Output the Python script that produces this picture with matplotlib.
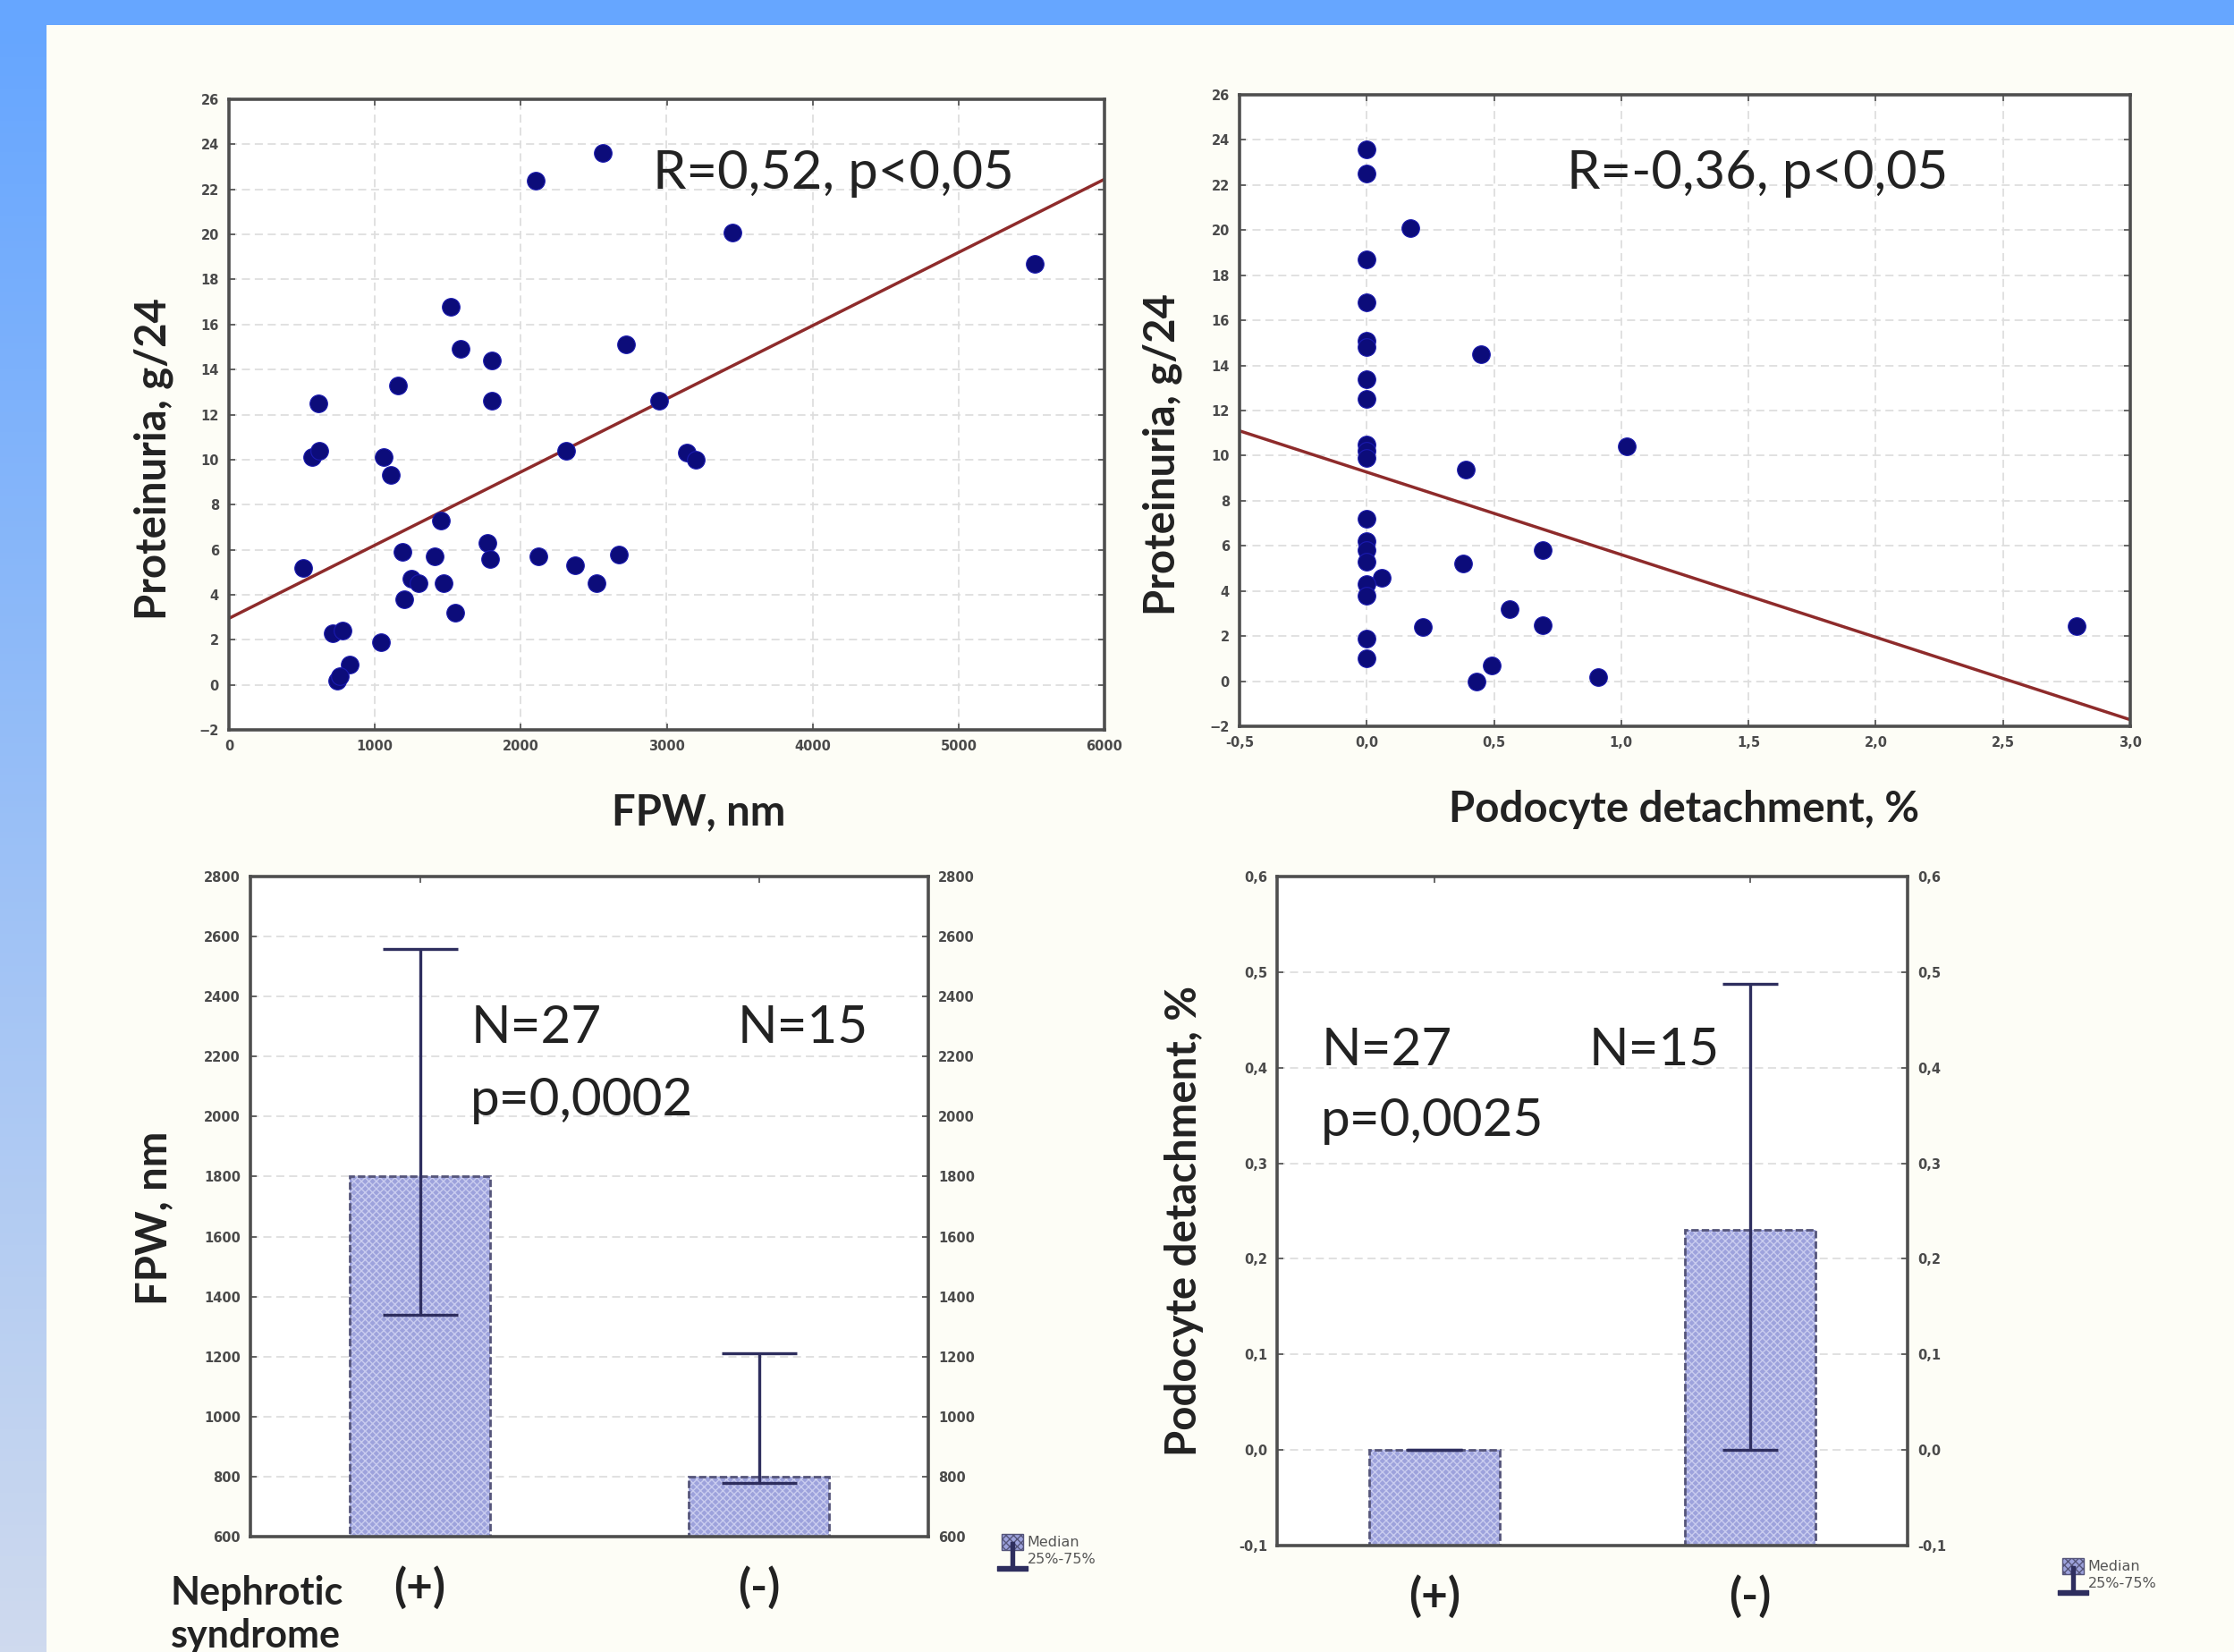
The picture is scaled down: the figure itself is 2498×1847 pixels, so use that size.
import numpy as np
import matplotlib
matplotlib.use("Agg")
import matplotlib.pyplot as plt
from matplotlib.patches import Rectangle, Patch
from matplotlib.lines import Line2D
from matplotlib.ticker import FuncFormatter, MultipleLocator

# ---------------- data ----------------
fpw_nm = [2100, 2560, 3450, 5520, 1520, 1590, 1800, 2720, 1160, 610, 1800, 2950,
          570, 620, 1060, 1110, 2310, 3140, 3200, 1450, 510, 1190, 1410, 1770,
          1790, 2120, 2670, 2370, 2520, 1470, 1250, 1300, 1200, 1550, 1040, 710,
          780, 830, 740, 760]
proteinuria_1 = [22.4, 23.6, 20.1, 18.7, 16.8, 14.9, 14.4, 15.1, 13.3, 12.5, 12.6, 12.6,
                 10.1, 10.4, 10.1, 9.3, 10.4, 10.3, 10.0, 7.3, 5.2, 5.9, 5.7, 6.3,
                 5.6, 5.7, 5.8, 5.3, 4.5, 4.5, 4.7, 4.5, 3.8, 3.2, 1.9, 2.3,
                 2.4, 0.9, 0.2, 0.4]
fit1_intercept = 2.95
fit1_slope = 0.00325

detachment_pct = [0, 0, 0.17, 0, 0, 0, 0, 0.45, 0, 0, 0, 0, 0, 1.02, 0.39, 0, 0, 0, 0,
                  0.69, 0.38, 0.06, 0, 0, 0.56, 0.22, 0.69, 0, 0, 0.49, 0.43, 0.91, 2.79]
proteinuria_2 = [23.6, 22.5, 20.1, 18.7, 16.8, 15.1, 14.8, 14.5, 13.4, 12.5, 10.5, 10.2, 9.9,
                 10.4, 9.4, 7.2, 6.2, 5.8, 5.3, 5.8, 5.2, 4.6, 4.3, 3.8, 3.2, 2.4, 2.5,
                 1.9, 1.0, 0.7, 0.0, 0.2, 2.45]
fit2_intercept = 9.27
fit2_slope = -3.66

groups = ["(+)", "(-)"]
fpw_median = [1800, 800]
fpw_q25 = [1340, 780]
fpw_q75 = [2560, 1210]
det_median = [0.0, 0.23]
det_q25 = [0.0, 0.0]
det_q75 = [0.0, 0.488]

# ---------------- style ----------------
plt.rcParams["font.weight"] = "bold"   # tick labels bold; annotations set to normal

W, H = 2498, 1847
fig = plt.figure(figsize=(W / 100, H / 100), dpi=100)
fig.patch.set_facecolor("#fdfdf6")

# blue frame: top band + left gradient band
fig.patches.append(Rectangle((0, 1 - 28 / H), 1, 28 / H, transform=fig.transFigure,
                             facecolor="#66a6ff", edgecolor="none", zorder=0))
gax = fig.add_axes([0, 0, 51 / W, 1 - 28 / H])
grad = np.linspace(0, 1, 256)[:, None]
top_c = np.array([0x66, 0xa6, 0xff]) / 255
bot_c = np.array([0xcf, 0xda, 0xee]) / 255
img = top_c[None, None, :] * (1 - grad[:, :, None]) + bot_c[None, None, :] * grad[:, :, None]
gax.imshow(img, aspect="auto", extent=[0, 1, 0, 1], origin="upper")
gax.set_axis_off()

SP = "#4e4e4e"
GRID = "#dedede"
TICKC = "#4a4a4a"
DOT = "#0c0c7a"
LINE = "#8e2b2b"
BAR = "#9da2dc"
HATCH = "#c9ccef"
BAREDGE = "#55557a"
ERR = "#2e2e5e"
TXT = "#222222"
LAB_FONT = ["Lato", "DejaVu Sans"]
LABEL_SIZE = 34

comma = FuncFormatter(lambda v, p: f"{v:.1f}".replace(".", ","))


def style_axes(ax, right_labels=False, vgrid=True):
    ax.set_facecolor("white")
    for s in ax.spines.values():
        s.set_color(SP)
        s.set_linewidth(2.6)
    ax.tick_params(direction="in", length=5, width=1.2, color=SP, labelsize=10.5,
                   labelcolor=TICKC, top=True, right=True, pad=8)
    if right_labels:
        ax.tick_params(labelright=True)
    ax.grid(True, axis="y", color=GRID, lw=1.3, ls=(0, (5, 3)))
    if vgrid:
        ax.grid(True, axis="x", color=GRID, lw=1.3, ls=(0, (5, 3)))
    ax.set_axisbelow(True)


def note(ax, x, y, s, size):
    ax.text(x, y, s, transform=ax.transAxes, fontsize=size, family=LAB_FONT,
            fontweight="normal", color=TXT, va="center", ha="left")


# ---------------- panel 1 ----------------
ax1 = fig.add_axes([256 / W, 1 - 816 / H, 979 / W, 705 / H])
style_axes(ax1)
ax1.set_xlim(0, 6000)
ax1.set_ylim(-2, 26)
ax1.xaxis.set_major_locator(MultipleLocator(1000))
ax1.yaxis.set_major_locator(MultipleLocator(2))
xs = np.array(ax1.get_xlim())
ax1.plot(xs, fit1_intercept + fit1_slope * xs, color=LINE, lw=2.5, zorder=2)
ax1.scatter(fpw_nm, proteinuria_1, s=200, color=DOT, edgecolors="#1a1ab0", linewidths=0.8, zorder=3)
ax1.set_xlabel("FPW, nm", fontsize=LABEL_SIZE, fontweight="bold", family=LAB_FONT, color=TXT)
ax1.set_ylabel("Proteinuria, g/24", fontsize=LABEL_SIZE, fontweight="bold", family=LAB_FONT, color=TXT)
ax1.xaxis.set_label_coords(0.536, -0.100)
ax1.yaxis.set_label_coords(-0.063, 0.43)
note(ax1, 0.484, 0.882, "R=0,52, p<0,05", 43)

# ---------------- panel 2 ----------------
ax2 = fig.add_axes([1386 / W, 1 - 812 / H, 996 / W, 706 / H])
style_axes(ax2)
ax2.set_xlim(-0.5, 3.0)
ax2.set_ylim(-2, 26)
ax2.xaxis.set_major_locator(MultipleLocator(0.5))
ax2.yaxis.set_major_locator(MultipleLocator(2))
ax2.xaxis.set_major_formatter(comma)
xs2 = np.array(ax2.get_xlim())
ax2.plot(xs2, fit2_intercept + fit2_slope * xs2, color=LINE, lw=2.5, zorder=2)
ax2.scatter(detachment_pct, proteinuria_2, s=200, color=DOT, edgecolors="#1a1ab0", linewidths=0.8, zorder=3)
ax2.set_xlabel("Podocyte detachment, %", fontsize=LABEL_SIZE, fontweight="bold", family=LAB_FONT, color=TXT)
ax2.set_ylabel("Proteinuria, g/24", fontsize=LABEL_SIZE, fontweight="bold", family=LAB_FONT, color=TXT)
ax2.xaxis.set_label_coords(0.499, -0.100)
ax2.yaxis.set_label_coords(-0.064, 0.43)
note(ax2, 0.367, 0.875, "R=-0,36, p<0,05", 43)


# ---------------- bar panels ----------------
def bar_panel(ax, med, q25, q75, ylim, step, fmt, capsize, legend_anchor):
    style_axes(ax, right_labels=True, vgrid=False)
    pos = np.arange(1, len(groups) + 1)
    ax.set_xlim(0.5, len(groups) + 0.5)
    ax.set_ylim(*ylim)
    ax.yaxis.set_major_locator(MultipleLocator(step))
    if fmt is not None:
        ax.yaxis.set_major_formatter(fmt)
    base = ylim[0]
    heights = np.array(med) - base
    # fill with light cross-hatch
    ax.bar(pos, heights, bottom=base, width=0.414, color=BAR, edgecolor=HATCH,
           linewidth=0, hatch="xxxx", zorder=2)
    # dark outline
    ax.bar(pos, heights, bottom=base, width=0.414, fill=False, edgecolor=BAREDGE,
           linewidth=2.0, linestyle=(0, (3, 1.2)), zorder=2.5)
    med = np.array(med)
    lo = med - np.array(q25)
    hi = np.array(q75) - med
    ax.errorbar(pos, med, yerr=[lo, hi], fmt="none", ecolor=ERR, elinewidth=2.4,
                capsize=capsize, capthick=2.4, zorder=3)
    ax.set_xticks(pos)
    ax.set_xticklabels(groups)
    for t in ax.get_xticklabels():
        t.set_fontsize(37)
        t.set_fontweight("bold")
        t.set_family(LAB_FONT)
        t.set_color(TXT)
    ax.tick_params(axis="x", pad=24, length=5)
    handles = [Patch(facecolor=BAR, edgecolor=BAREDGE, hatch="xxxx"),
               Line2D([], [], color=ERR, marker="$\u22A5$", markersize=24, ls="none")]
    leg = fig.legend(handles, ["Median", "25%-75%"], loc="center left",
                     bbox_to_anchor=legend_anchor, frameon=False,
                     prop={"size": 11.5, "weight": "normal"},
                     handlelength=1.5, handleheight=1.4, handletextpad=0.3,
                     labelspacing=0.0, borderaxespad=0, borderpad=0)
    for t in leg.get_texts():
        t.set_color("#555")


ax3 = fig.add_axes([280 / W, 1 - 1718 / H, 758 / W, 738 / H])
bar_panel(ax3, fpw_median, fpw_q25, fpw_q75, (600, 2800), 200, None, 30,
          (1120 / W, 1 - 1733 / H))
ax3.set_ylabel("FPW, nm", fontsize=LABEL_SIZE, fontweight="bold", family=LAB_FONT, color=TXT)
ax3.yaxis.set_label_coords(-0.113, 0.482)
note(ax3, 0.325, 0.77, "N=27", 42)
note(ax3, 0.718, 0.77, "N=15", 42)
note(ax3, 0.325, 0.66, "p=0,0002", 42)

ax4 = fig.add_axes([1428 / W, 1 - 1728 / H, 705 / W, 748 / H])
bar_panel(ax4, det_median, det_q25, det_q75, (-0.1, 0.6), 0.1, comma, 22,
          (2306 / W, 1 - 1760 / H))
ax4.set_ylabel("Podocyte detachment, %", fontsize=LABEL_SIZE, fontweight="bold", family=LAB_FONT, color=TXT)
ax4.yaxis.set_label_coords(-0.116, 0.485)
note(ax4, 0.07, 0.74, "N=27", 42)
note(ax4, 0.494, 0.74, "N=15", 42)
note(ax4, 0.07, 0.634, "p=0,0025", 42)

fig.text(191 / W, 1 - 1761 / H, "Nephrotic\nsyndrome", fontsize=31, fontweight="bold",
         family=LAB_FONT, color=TXT, va="top", ha="left", linespacing=1.25)

fig.savefig("out.png", dpi=100, facecolor=fig.get_facecolor())
